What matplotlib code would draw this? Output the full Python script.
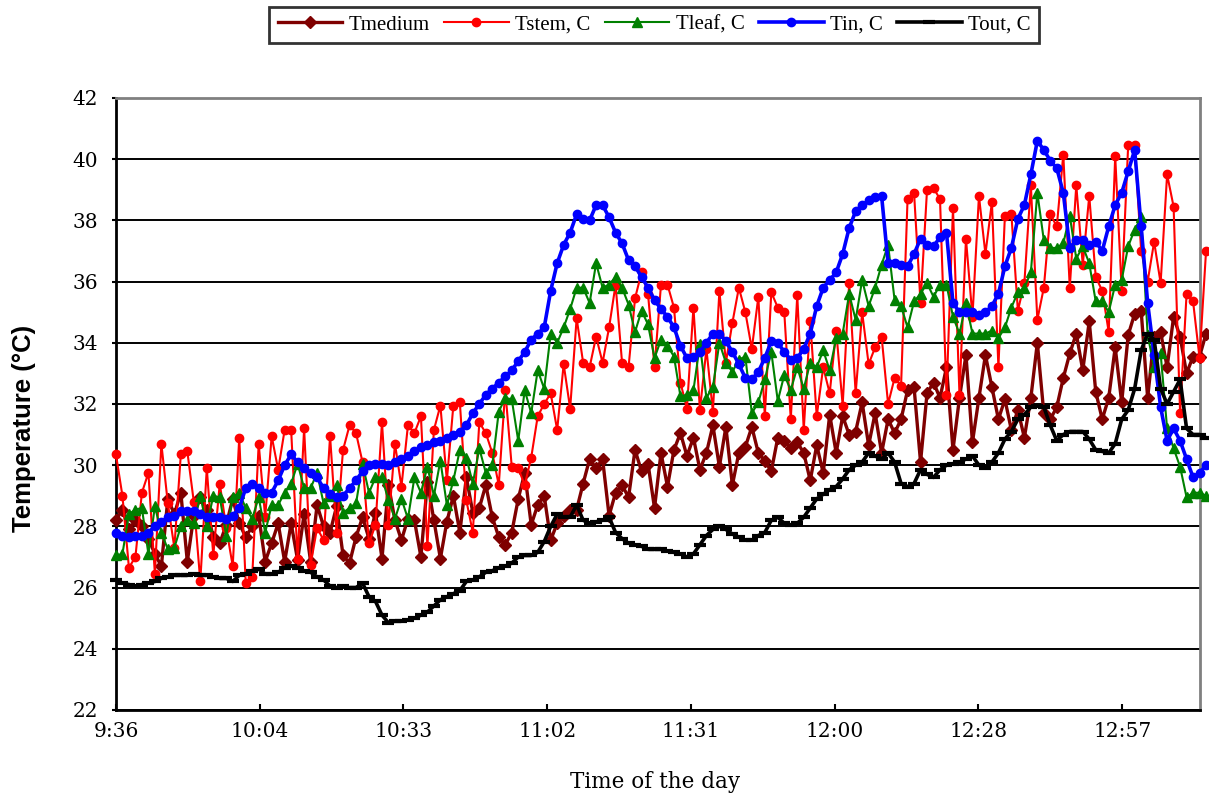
import numpy as np
import matplotlib
matplotlib.use("Agg")
import matplotlib.pyplot as plt

# logger readings, one every ~1.3 min starting at 9:36
start_min = 0.0
step_min = 1.3

t_medium = [
    28.2, 28.55, 27.9, 28.2, 28.0, 27.6, 27.1, 26.7, 28.9, 28.4,
    29.1, 26.85, 28.35, 28.95, 28.55, 27.65, 27.45, 28.05, 28.9, 28.1,
    27.65, 28.0, 28.35, 26.85, 27.45, 28.1, 26.85, 28.1, 26.9, 28.4,
    26.85, 28.7, 28.0, 27.8, 28.65, 27.05, 26.8, 27.65, 28.3, 27.6,
    28.45, 26.95, 29.35, 28.2, 27.55, 28.25, 28.2, 27.0, 29.45, 28.2,
    26.95, 28.15, 29.0, 27.8, 29.6, 28.45, 28.6, 29.35, 28.3, 27.65,
    27.4, 27.8, 28.9, 29.75, 28.05, 28.7, 29.0, 27.55, 28.1, 28.35,
    28.55, 28.55, 29.4, 30.2, 29.9, 30.2, 28.35, 29.1, 29.35, 28.95,
    30.5, 29.8, 30.05, 28.6, 30.4, 29.3, 30.5, 31.05, 30.3, 30.9,
    29.85, 30.4, 31.3, 29.95, 31.25, 29.35, 30.4, 30.6, 31.25, 30.4,
    30.15, 29.8, 30.9, 30.8, 30.55, 30.75, 30.4, 29.5, 30.65, 29.75,
    31.65, 30.4, 31.6, 31.0, 31.1, 32.05, 30.65, 31.7, 30.4, 31.5,
    31.05, 31.5, 32.45, 32.55, 30.1, 32.35, 32.7, 32.2, 33.2, 30.5,
    32.2, 33.6, 30.75, 32.2, 33.6, 32.55, 31.5, 32.15, 31.15, 31.8,
    30.9, 32.2, 34.0, 31.7, 31.5, 31.9, 32.85, 33.65, 34.3, 33.1,
    34.7, 32.4, 31.5, 32.2, 33.85, 32.05, 34.25, 34.95, 35.05, 32.2,
    34.2, 34.35, 33.2, 34.85, 34.2, 33.0, 33.55, 33.55, 34.3,
]

t_stem = [
    30.35, 29.0, 26.65, 27.0, 29.1, 29.75, 26.45, 30.7, 28.75, 27.3,
    30.35, 30.45, 28.8, 26.2, 29.9, 27.05, 29.4, 27.95, 26.7, 30.9,
    26.15, 26.35, 30.7, 28.3, 30.95, 29.85, 31.15, 31.15, 26.95, 31.2,
    26.75, 27.95, 27.55, 30.95, 27.8, 30.5, 31.3, 31.05, 30.1, 27.45,
    28.05, 31.4, 28.05, 30.7, 29.3, 31.3, 31.05, 31.6, 27.35, 31.15,
    31.95, 29.5, 31.95, 32.05, 28.85, 27.8, 31.4, 31.05, 30.4, 29.35,
    32.45, 29.95, 29.9, 29.35, 30.25, 31.6, 32.0, 32.35, 31.15, 33.3,
    31.85, 34.8, 33.35, 33.2, 34.2, 33.35, 34.5, 35.9, 33.35, 33.2,
    35.45, 36.3, 35.6, 33.2, 35.9, 35.9, 35.15, 32.7, 31.85, 35.15,
    31.8, 33.8, 31.75, 35.7, 33.35, 34.65, 35.8, 35.0, 33.8, 35.5,
    31.6, 35.65, 35.15, 35.0, 31.5, 35.55, 31.15, 34.7, 31.6, 33.2,
    32.35, 34.4, 31.95, 35.95, 32.35, 35.0, 33.3, 33.85, 34.2, 32.0,
    32.85, 32.6, 38.7, 38.9, 35.3, 39.0, 39.05, 38.7, 32.3, 38.4,
    32.3, 37.4, 34.85, 38.8, 36.9, 38.6, 33.2, 38.15, 38.2, 35.05,
    35.95, 39.15, 34.75, 35.8, 38.2, 37.8, 40.15, 35.8, 39.15, 36.55,
    38.8, 36.15, 35.7, 34.35, 40.1, 35.7, 40.45, 40.45, 37.0, 36.0,
    37.3, 35.95, 39.5, 38.45, 31.7, 35.6, 35.35, 33.5, 37.0,
]

t_leaf = [
    27.05, 27.1, 28.4, 28.55, 28.6, 27.1, 28.65, 27.8, 27.25, 27.3,
    28.0, 28.2, 28.1, 29.0, 28.0, 29.0, 28.95, 27.7, 28.95, 29.1,
    28.6, 28.25, 28.95, 27.8, 28.7, 28.7, 29.1, 29.4, 30.05, 29.25,
    29.25, 29.75, 28.75, 29.0, 29.35, 28.45, 28.6, 28.75, 30.05, 29.1,
    29.6, 29.6, 28.85, 28.25, 28.9, 28.25, 29.6, 29.1, 29.95, 29.0,
    30.15, 28.7, 29.5, 30.5, 30.25, 29.4, 30.55, 29.75, 30.0, 31.75,
    32.2, 32.15, 30.8, 32.45, 31.7, 33.1, 32.5, 34.3, 34.0, 34.5,
    35.1, 35.8, 35.8, 35.3, 36.6, 35.8, 35.9, 36.15, 35.8, 35.25,
    34.35, 35.05, 34.6, 33.5, 34.1, 33.9, 33.55, 32.25, 32.3, 32.45,
    33.95, 32.2, 32.55, 34.0, 33.35, 33.05, 33.45, 33.55, 31.7, 32.05,
    32.8, 33.7, 32.1, 32.95, 32.45, 33.2, 32.5, 33.35, 33.2, 33.75,
    33.1, 34.15, 34.3, 35.6, 34.75, 36.05, 35.2, 35.8, 36.55, 37.2,
    35.4, 35.2, 34.5, 35.35, 35.6, 35.95, 35.5, 35.9, 35.9, 34.85,
    34.3, 35.3, 34.3, 34.3, 34.3, 34.4, 34.15, 34.5, 35.15, 35.65,
    35.8, 36.3, 38.9, 37.35, 37.1, 37.1, 37.25, 38.15, 36.75, 37.15,
    36.6, 35.35, 35.35, 35.0, 35.9, 36.05, 37.15, 37.7, 38.1, 34.25,
    33.2, 33.65, 31.2, 30.55, 29.95, 28.95, 29.1, 29.1, 29.0,
]

t_in = [
    27.8, 27.7, 27.65, 27.7, 27.7, 27.8, 28.0, 28.15, 28.3, 28.35,
    28.5, 28.5, 28.5, 28.4, 28.3, 28.3, 28.3, 28.25, 28.35, 28.6,
    29.25, 29.4, 29.25, 29.1, 29.1, 29.5, 30.0, 30.35, 30.1, 29.9,
    29.75, 29.6, 29.25, 29.05, 28.95, 29.0, 29.25, 29.5, 29.8, 30.0,
    30.05, 30.05, 30.0, 30.1, 30.2, 30.3, 30.45, 30.6, 30.65, 30.75,
    30.8, 30.9, 31.0, 31.1, 31.3, 31.7, 32.0, 32.3, 32.5, 32.7,
    32.9, 33.1, 33.4, 33.7, 34.1, 34.3, 34.5, 35.7, 36.6, 37.2,
    37.6, 38.2, 38.05, 38.0, 38.5, 38.5, 38.1, 37.6, 37.25, 36.7,
    36.5, 36.15, 35.8, 35.4, 35.1, 34.85, 34.5, 33.9, 33.5, 33.55,
    33.7, 34.0, 34.3, 34.3, 34.05, 33.7, 33.3, 32.85, 32.8, 33.05,
    33.5, 34.05, 34.0, 33.7, 33.45, 33.5, 33.8, 34.3, 35.2, 35.8,
    36.05, 36.3, 36.9, 37.75, 38.3, 38.5, 38.65, 38.75, 38.8, 36.6,
    36.6, 36.55, 36.5, 36.9, 37.4, 37.2, 37.15, 37.45, 37.6, 35.3,
    35.0, 35.0, 35.0, 34.9, 35.0, 35.2, 35.6, 36.5, 37.1, 38.05,
    38.5, 39.5, 40.6, 40.3, 39.95, 39.7, 38.9, 37.1, 37.35, 37.35,
    37.2, 37.3, 37.0, 37.8, 38.5, 38.9, 39.6, 40.3, 37.8, 35.3,
    33.6, 31.9, 30.8, 31.2, 30.8, 30.2, 29.6, 29.75, 30.0,
]

t_out = [
    26.25, 26.15, 26.1, 26.05, 26.1, 26.15, 26.2, 26.3, 26.35, 26.4,
    26.4, 26.4, 26.45, 26.4, 26.4, 26.35, 26.3, 26.3, 26.2, 26.4,
    26.45, 26.55, 26.6, 26.45, 26.45, 26.5, 26.65, 26.7, 26.65, 26.55,
    26.5, 26.35, 26.25, 26.05, 26.0, 26.05, 26.0, 26.0, 26.15, 25.7,
    25.55, 25.1, 24.85, 24.9, 24.9, 24.95, 25.0, 25.1, 25.2, 25.4,
    25.6, 25.7, 25.8, 25.9, 26.2, 26.25, 26.35, 26.5, 26.55, 26.65,
    26.7, 26.8, 27.0, 27.05, 27.05, 27.15, 27.5, 28.0, 28.4, 28.3,
    28.3, 28.7, 28.2, 28.1, 28.15, 28.2, 28.3, 27.8, 27.6, 27.45,
    27.4, 27.35, 27.25, 27.25, 27.25, 27.2, 27.15, 27.1, 27.0, 27.1,
    27.4, 27.7, 27.9, 28.0, 27.9, 27.75, 27.65, 27.55, 27.55, 27.7,
    27.8, 28.2, 28.3, 28.1, 28.05, 28.1, 28.3, 28.6, 28.9, 29.05,
    29.2, 29.3, 29.55, 29.85, 30.0, 30.1, 30.4, 30.3, 30.2, 30.4,
    30.1, 29.4, 29.3, 29.4, 29.85, 29.7, 29.6, 29.85, 30.0, 30.05,
    30.1, 30.2, 30.3, 30.0, 29.9, 30.1, 30.4, 30.85, 31.1, 31.5,
    31.65, 31.9, 31.95, 31.9, 31.3, 30.8, 31.0, 31.1, 31.1, 31.1,
    30.85, 30.5, 30.45, 30.4, 30.7, 31.5, 31.8, 32.5, 33.75, 34.3,
    34.1, 32.5, 32.0, 32.4, 32.8, 31.2, 31.0, 31.0, 30.9,
]

tick_labels = ["9:36", "10:04", "10:33", "11:02", "11:31", "12:00", "12:28", "12:57"]
tick_step_min = 28.8
x_max_min = 217.2

times = start_min + step_min * np.arange(len(t_in))

serif = ["Liberation Serif", "DejaVu Serif"]
wide_serif = ["DejaVu Serif"]

fig = plt.figure(figsize=(12.09, 7.99), dpi=100)
ax = fig.add_axes([0.0959, 0.1114, 0.8967, 0.766])

# ── series (draw order = legend order) ───────────
common = dict(clip_on=False)
ax.plot(times, t_medium, color="#7F0000", lw=2.4, marker="D", ms=6,
        label="Tmedium", zorder=3, **common)
ax.plot(times, t_stem, color="#FF0000", lw=1.5, marker="o", ms=6,
        label="Tstem, C", zorder=4, **common)
ax.plot(times, t_leaf, color="#008000", lw=1.5, marker="^", ms=7.5,
        label="Tleaf, C", zorder=5, **common)
ax.plot(times, t_in, color="#0000FF", lw=2.6, marker="o", ms=6,
        label="Tin, C", zorder=6, **common)
ax.plot(times, t_out, color="#000000", lw=2.6, marker="_", ms=8, mew=3,
        label="Tout, C", zorder=7, **common)

# ── axes ─────────────────────────────────────────
ax.set_xlim(0, x_max_min)
ax.set_ylim(22, 42)
ax.set_yticks(np.arange(22, 43, 2))
ax.set_xticks(tick_step_min * np.arange(len(tick_labels)))
ax.set_xticklabels(tick_labels)
ax.yaxis.grid(True, color="black", lw=1.4)
ax.set_axisbelow(True)

for side in ("left", "bottom"):
    ax.spines[side].set_color("black")
    ax.spines[side].set_linewidth(2)
for side in ("top", "right"):
    ax.spines[side].set_color("#808080")
    ax.spines[side].set_linewidth(2)

ax.tick_params(axis="x", direction="in", length=4, width=1.5, pad=9)
ax.tick_params(axis="y", direction="out", length=3, width=1.5, pad=10)
for lab in ax.get_xticklabels() + ax.get_yticklabels():
    lab.set_family(wide_serif)
    lab.set_fontsize(14.5)

ax.set_xlabel("Time of the day", family=wide_serif, fontsize=15.5)
ax.xaxis.set_label_coords(0.497, -0.118)
ax.xaxis.label.set_va("center")
ax.set_ylabel("Temperature (°C)", family=["Liberation Sans", "DejaVu Sans"],
              fontsize=18.5, fontweight="bold")
ax.yaxis.set_label_coords(-0.085, 0.46)
ax.yaxis.label.set_va("center")

# ── legend box above the plot ────────────────────
leg = fig.legend(loc="center", bbox_to_anchor=(0.541, 0.969), ncol=5,
                 frameon=True, fancybox=False, numpoints=1,
                 handlelength=3.1, handletextpad=0.3, columnspacing=0.7,
                 borderpad=0.4, prop={"family": serif, "size": 15})
leg.get_frame().set_edgecolor("black")
leg.get_frame().set_linewidth(2)

fig.savefig("out.png", dpi=100)
